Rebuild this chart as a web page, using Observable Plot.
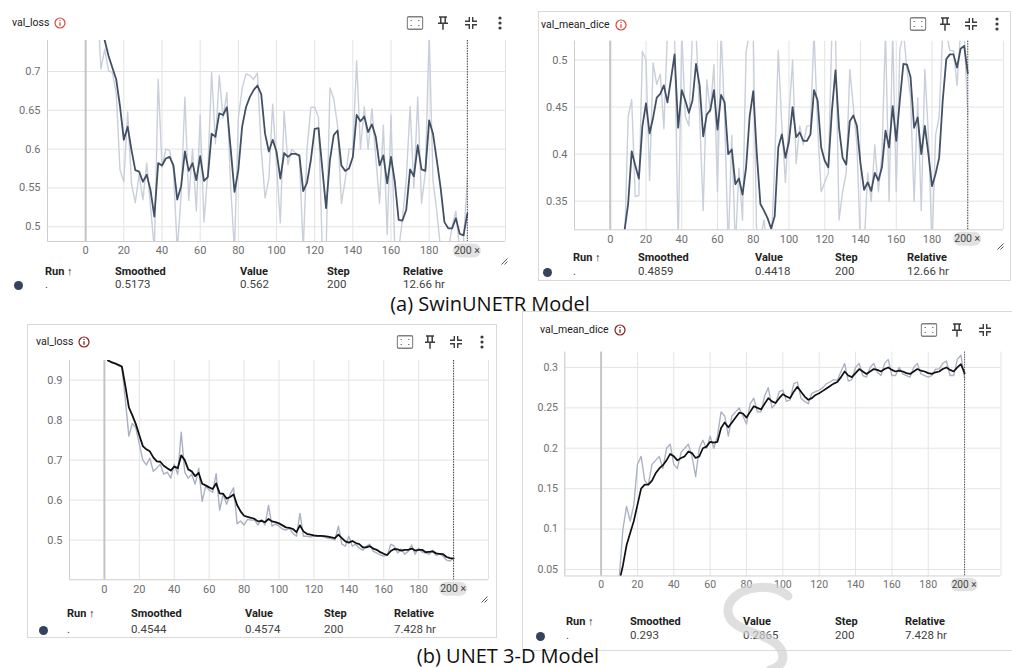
<!DOCTYPE html>
<html><head><meta charset="utf-8">
<script src="https://cdn.jsdelivr.net/npm/d3@7"></script>
<script src="https://cdn.jsdelivr.net/npm/@observablehq/plot@0.6"></script>
<style>
body{margin:0;width:1012px;height:668px;overflow:hidden;background:#fff;font-family:Roboto,"Noto Sans",sans-serif;position:relative}
.abs{position:absolute}
.box{position:absolute;border:1px solid #d9d9d9;box-sizing:border-box}
.t{position:absolute;transform:translateY(-50%);white-space:nowrap;line-height:1}
.title{font-size:10.5px;color:#212121;display:flex;align-items:center}
.title svg{margin-left:5px}
.th{font-size:11px;font-weight:700;color:#212121}
.td{font-size:11.5px;color:#424242}
.cap{position:absolute;font-family:"Open Sans",sans-serif;font-size:20px;color:#111;transform:translate(-50%,-50%);white-space:nowrap;line-height:1}
.ic{position:absolute;transform:translate(-50%,-50%);line-height:0}
</style></head><body>
<script>
// ---------- DATA ----------
const xTickLabels = [0, 20, 40, 60, 80, 100, 120, 140, 160, 180];
const xGrid = [-20, 0, 20, 40, 60, 80, 100, 120, 140, 160, 180, 200, 220];

// (a) SwinUNETR val_loss, steps 6..200 every 2
const swinLossSteps = d3.range(6, 201, 2);
const swinLossSmoothed = [0.80,0.76,0.74,0.72,0.705,0.69,0.655,0.612,0.629,0.599,
0.573,0.571,0.558,0.567,0.547,0.513,0.582,0.579,0.588,0.59,
0.579,0.535,0.552,0.597,0.572,0.582,0.56,0.591,0.559,0.564,
0.62,0.616,0.646,0.644,0.654,0.6,0.545,0.573,0.629,0.654,
0.667,0.676,0.682,0.671,0.62,0.597,0.612,0.597,0.562,0.595,
0.59,0.594,0.594,0.592,0.546,0.557,0.586,0.626,0.627,0.575,
0.524,0.586,0.618,0.624,0.579,0.572,0.575,0.59,0.644,0.636,
0.642,0.622,0.632,0.616,0.579,0.592,0.556,0.59,0.558,0.509,
0.508,0.522,0.574,0.565,0.605,0.574,0.572,0.637,0.62,0.586,
0.55,0.506,0.498,0.498,0.511,0.491,0.489,0.517];
const swinLossValue = [0.80,0.703,0.729,0.701,0.699,0.672,0.573,0.558,0.648,0.556,
0.531,0.567,0.535,0.582,0.526,0.47,0.69,0.577,0.60,0.598,
0.573,0.47,0.54,0.667,0.534,0.60,0.52,0.644,0.506,0.57,
0.699,0.607,0.695,0.64,0.673,0.55,0.47,0.64,0.678,0.697,
0.695,0.69,0.698,0.60,0.537,0.562,0.658,0.58,0.505,0.649,
0.58,0.60,0.595,0.59,0.47,0.60,0.654,0.654,0.641,0.47,
0.47,0.679,0.665,0.63,0.53,0.56,0.60,0.60,0.714,0.60,
0.655,0.60,0.652,0.59,0.53,0.631,0.49,0.644,0.47,0.47,
0.51,0.56,0.655,0.55,0.667,0.53,0.57,0.75,0.56,0.52,
0.47,0.47,0.47,0.50,0.52,0.47,0.48,0.562];

// (a) SwinUNETR val_mean_dice, steps 6..200 every 2
const swinDiceSteps = d3.range(6, 201, 2);
const swinDiceSmoothed = [0.30,0.319,0.347,0.403,0.388,0.374,0.43,0.454,0.422,0.439,
0.46,0.464,0.473,0.455,0.48,0.506,0.428,0.468,0.457,0.444,
0.457,0.496,0.473,0.419,0.442,0.447,0.468,0.426,0.463,0.455,
0.40,0.405,0.368,0.374,0.357,0.386,0.44,0.467,0.40,0.347,
0.34,0.332,0.321,0.334,0.407,0.421,0.396,0.414,0.45,0.418,
0.423,0.414,0.414,0.421,0.468,0.457,0.407,0.393,0.386,0.446,
0.489,0.428,0.396,0.389,0.435,0.441,0.43,0.39,0.362,0.37,
0.361,0.38,0.372,0.386,0.425,0.407,0.451,0.414,0.457,0.496,
0.495,0.482,0.428,0.439,0.40,0.43,0.40,0.366,0.379,0.396,
0.457,0.501,0.506,0.506,0.492,0.512,0.515,0.486];
const swinDiceValue = [0.28,0.30,0.44,0.458,0.355,0.356,0.509,0.50,0.372,0.497,
0.474,0.485,0.427,0.53,0.53,0.53,0.30,0.53,0.44,0.43,
0.53,0.53,0.44,0.34,0.479,0.445,0.495,0.36,0.53,0.44,
0.30,0.42,0.30,0.385,0.33,0.509,0.53,0.53,0.30,0.31,
0.33,0.30,0.30,0.39,0.51,0.43,0.37,0.44,0.50,0.39,
0.43,0.41,0.43,0.43,0.53,0.43,0.36,0.37,0.38,0.53,
0.53,0.33,0.36,0.38,0.49,0.45,0.41,0.30,0.30,0.38,
0.35,0.41,0.36,0.40,0.53,0.35,0.53,0.36,0.51,0.53,
0.49,0.46,0.35,0.46,0.34,0.49,0.42,0.30,0.42,0.44,
0.53,0.53,0.51,0.51,0.473,0.53,0.53,0.442];

// (b) UNET 3-D val_loss, steps 2..200 every 2
const unetLossSteps = d3.range(2, 201, 2);
const unetLossSmoothed = [0.949,0.945,0.942,0.938,0.934,0.885,0.832,0.812,0.79,0.762,
0.735,0.727,0.722,0.707,0.697,0.696,0.686,0.68,0.674,0.684,
0.68,0.712,0.70,0.677,0.672,0.66,0.668,0.641,0.637,0.632,
0.628,0.642,0.617,0.616,0.604,0.608,0.614,0.588,0.572,0.561,
0.558,0.556,0.553,0.547,0.548,0.545,0.553,0.547,0.545,0.542,
0.537,0.532,0.531,0.528,0.52,0.537,0.522,0.516,0.514,0.512,
0.511,0.511,0.51,0.509,0.507,0.505,0.514,0.505,0.497,0.494,
0.498,0.493,0.49,0.482,0.482,0.485,0.479,0.476,0.47,0.466,
0.463,0.473,0.478,0.477,0.474,0.476,0.476,0.479,0.474,0.476,
0.476,0.47,0.471,0.472,0.467,0.466,0.465,0.458,0.455,0.454];
const unetLossValue = [0.95,0.944,0.941,0.936,0.932,0.85,0.76,0.792,0.78,0.74,
0.70,0.688,0.705,0.672,0.68,0.69,0.665,0.67,0.655,0.69,
0.665,0.77,0.67,0.655,0.665,0.64,0.68,0.597,0.635,0.625,
0.62,0.666,0.575,0.615,0.59,0.615,0.631,0.541,0.548,0.538,
0.552,0.55,0.55,0.538,0.552,0.538,0.587,0.535,0.54,0.535,
0.528,0.525,0.53,0.517,0.51,0.567,0.51,0.51,0.508,0.51,
0.51,0.51,0.508,0.505,0.504,0.50,0.535,0.49,0.485,0.51,
0.485,0.49,0.48,0.475,0.485,0.49,0.472,0.468,0.463,0.46,
0.462,0.49,0.485,0.468,0.478,0.465,0.472,0.488,0.465,0.48,
0.47,0.468,0.465,0.475,0.462,0.465,0.46,0.45,0.448,0.457];

// (b) UNET 3-D val_mean_dice, steps 10..200 every 2
const unetDiceSteps = d3.range(10, 201, 2);
const unetDiceSmoothed = [0.035,0.055,0.08,0.095,0.11,0.13,0.15,0.155,0.155,0.16,
0.169,0.175,0.179,0.185,0.193,0.19,0.185,0.188,0.19,0.196,
0.194,0.188,0.19,0.2,0.202,0.208,0.207,0.208,0.225,0.232,
0.226,0.232,0.238,0.244,0.243,0.238,0.245,0.252,0.25,0.248,
0.255,0.262,0.258,0.256,0.262,0.267,0.264,0.262,0.27,0.276,
0.27,0.264,0.26,0.262,0.266,0.268,0.271,0.274,0.277,0.28,
0.282,0.288,0.295,0.29,0.288,0.293,0.298,0.295,0.292,0.295,
0.298,0.297,0.295,0.298,0.3,0.297,0.295,0.296,0.295,0.293,
0.292,0.295,0.298,0.296,0.295,0.293,0.292,0.294,0.295,0.298,
0.3,0.297,0.295,0.3,0.304,0.293];
const unetDiceValue = [0.04,0.10,0.128,0.11,0.13,0.18,0.19,0.16,0.155,0.18,
0.185,0.19,0.175,0.2,0.205,0.18,0.175,0.195,0.2,0.205,
0.19,0.165,0.2,0.21,0.2,0.215,0.2,0.215,0.245,0.24,
0.215,0.24,0.245,0.25,0.24,0.23,0.255,0.262,0.245,0.245,
0.265,0.275,0.25,0.255,0.27,0.272,0.258,0.26,0.28,0.282,
0.262,0.258,0.255,0.268,0.27,0.272,0.275,0.28,0.282,0.285,
0.284,0.295,0.305,0.283,0.285,0.3,0.305,0.29,0.288,0.3,
0.305,0.294,0.29,0.305,0.31,0.29,0.29,0.3,0.292,0.29,
0.288,0.3,0.305,0.292,0.29,0.288,0.29,0.298,0.298,0.305,
0.308,0.29,0.29,0.31,0.315,0.2865];

const footHeaders = ["Run \u2191", "Smoothed", "Value", "Step", "Relative"];
const footA = [".", "0.5173", "0.562", "200", "12.66 hr"];
const footB = [".", "0.4859", "0.4418", "200", "12.66 hr"];
const footC = [".", "0.4544", "0.4574", "200", "7.428 hr"];
const footD = [".", "0.293", "0.2865", "200", "7.428 hr"];

// ---------- HELPERS ----------
const body = document.body;
function txt(x, y, s, cls, extra) {
  const d = document.createElement("div");
  d.className = "t " + cls;
  d.style.left = x + "px"; d.style.top = y + "px";
  if (extra) Object.assign(d.style, extra);
  d.textContent = s;
  body.appendChild(d);
  return d;
}
function icon(x, y, svg) {
  const d = document.createElement("div");
  d.className = "ic"; d.style.left = x + "px"; d.style.top = y + "px";
  d.innerHTML = svg; body.appendChild(d);
}
function box(l, t, r, b) {
  const d = document.createElement("div");
  d.className = "box";
  Object.assign(d.style, {left: l + "px", top: t + "px", width: (r - l) + "px", height: (b - t) + "px"});
  body.appendChild(d);
}
const IC = {
  fit: '<svg width="17" height="14"><rect x="0.75" y="0.75" width="15.5" height="12.5" rx="1.5" fill="none" stroke="#808080" stroke-width="1.3"/><path d="M4 4.5h1.5M11.5 4.5h1.5M4 9.5h1.5M11.5 9.5h1.5" stroke="#808080" stroke-width="1.2"/></svg>',
  pin: '<svg width="12" height="15"><path d="M2 1.5h8M3.8 1.5v6M8.2 1.5v6M1 7.8h10M6 7.8v6.5" stroke="#3c3c3c" stroke-width="1.5" fill="none"/></svg>',
  col: '<svg width="13" height="13"><path d="M4.8 0.5v4.3h-4.3M8.2 0.5v4.3h4.3M4.8 12.5v-4.3h-4.3M8.2 12.5v-4.3h4.3" stroke="#3c3c3c" fill="none" stroke-width="1.4"/></svg>',
  dots: '<svg width="4" height="14" fill="#3c3c3c"><circle cx="2" cy="2" r="1.6"/><circle cx="2" cy="7" r="1.6"/><circle cx="2" cy="12" r="1.6"/></svg>',
  info: c => `<svg width="12" height="12"><circle cx="6" cy="6" r="5" fill="none" stroke="${c}" stroke-width="1.2"/><path d="M6 5.2v3.6M6 3v1.1" stroke="${c}" stroke-width="1.3"/></svg>`,
  resize: '<svg width="8" height="8"><path d="M7.5 1.5L1.5 7.5M7.5 4.5L4.5 7.5" stroke="#555" stroke-width="1"/></svg>'
};
function title(x, y, s, infoColor) {
  const d = txt(x, y, s, "title");
  d.insertAdjacentHTML("beforeend", IC.info(infoColor));
}

function chart(p) {
  const data = p.steps.map((s, i) => ({step: s, raw: p.raw[i], smooth: p.smooth[i]}));
  const y0 = p.yDomain[0];
  const fmt = d => String(d);
  const c = Plot.plot({
    width: p.w, height: p.h,
    marginLeft: p.ml, marginRight: p.mr, marginTop: p.mt, marginBottom: p.mb,
    style: {fontFamily: "Roboto, sans-serif", fontSize: "11px", color: "#6e6e6e", background: "transparent", overflow: "visible"},
    x: {domain: [-20, 220]},
    y: {domain: p.yDomain},
    marks: [
      Plot.gridX(xGrid, {stroke: "#e3e3e3", strokeOpacity: 1}),
      Plot.gridY(p.yTicks, {stroke: "#e3e3e3", strokeOpacity: 1}),
      Plot.ruleX([-20], {stroke: "#cdcdcd"}),
      Plot.ruleY([y0], {stroke: "#cdcdcd"}),
      Plot.ruleX([0], {stroke: "#c4c4c4", strokeWidth: 2}),
      Plot.line(data, {x: "step", y: "raw", stroke: p.rawColor, strokeWidth: 1.4, clip: true}),
      Plot.line(data, {x: "step", y: "smooth", stroke: p.smoothColor, strokeWidth: 1.8, clip: true}),
      Plot.ruleX([200], {stroke: "#3a3a3a", strokeDasharray: "1.3,1.3", strokeWidth: 1}),
      Plot.axisX(xTickLabels, {tickSize: 0, tickPadding: 5, label: null, tickFormat: fmt}),
      Plot.axisY(p.yTicks, {tickSize: 0, tickPadding: 7, label: null, tickFormat: fmt})
    ]
  });
  const wrap = document.createElement("div");
  wrap.className = "abs";
  wrap.style.left = p.left + "px"; wrap.style.top = p.top + "px";
  wrap.appendChild(c);
  body.appendChild(wrap);
  // "200 ×" pill on the x axis, placed with the chart's own x scale
  const px = c.scale("x").apply(200);
  const g = d3.select(c).append("g").attr("transform", `translate(${px},${p.h - p.mb + 9.5})`);
  g.append("rect").attr("x", -14).attr("y", -7).attr("width", 28).attr("height", 14).attr("rx", 7).attr("fill", "#e2e2e2");
  g.append("text").attr("x", 0).attr("dy", "0.35em").attr("text-anchor", "middle").attr("font-size", 10.5)
    .attr("fill", "#444").text("200 \u00d7");
  return c;
}
function footer(cols, yH, yV, dotX, vals) {
  footHeaders.forEach((h, i) => txt(cols[i], yH, h, "th"));
  vals.forEach((v, i) => txt(cols[i], yV, v, "td"));
  const d = document.createElement("div");
  Object.assign(d.style, {position: "absolute", left: (dotX - 4.5) + "px", top: (yV - 4) + "px", width: "9px", height: "9px", borderRadius: "50%", background: "#34425c"});
  body.appendChild(d);
}
function caption(x, y, s) {
  const d = document.createElement("div");
  d.className = "cap"; d.style.left = x + "px"; d.style.top = y + "px";
  d.textContent = s; body.appendChild(d);
}

// ---------- PANEL A : SwinUNETR val_loss ----------
title(12, 23, "val_loss", "#e0463c");
icon(415, 23, IC.fit); icon(443, 23, IC.pin); icon(471, 23, IC.col); icon(500, 23, IC.dots);
chart({steps: swinLossSteps, raw: swinLossValue, smooth: swinLossSmoothed,
  yDomain: [0.481, 0.74], yTicks: [0.5, 0.55, 0.6, 0.65, 0.7],
  left: 0, top: 30, w: 512, h: 235, ml: 47, mr: 7, mt: 10, mb: 24,
  rawColor: "#c9cfdb", smoothColor: "#425066"});
icon(504, 261, IC.resize);
footer([45, 115, 240, 327, 403], 270.5, 284.5, 18, footA);

// ---------- PANEL B : SwinUNETR val_mean_dice ----------
box(538, 11, 1011, 281);
title(541, 25, "val_mean_dice", "#e0463c");
icon(918, 24, IC.fit); icon(945, 24, IC.pin); icon(971, 24, IC.col); icon(997, 24, IC.dots);
chart({steps: swinDiceSteps, raw: swinDiceValue, smooth: swinDiceSmoothed,
  yDomain: [0.3196, 0.52], yTicks: [0.35, 0.4, 0.45, 0.5],
  left: 528, top: 32, w: 484, h: 218, ml: 46, mr: 9, mt: 8.7, mb: 20.7,
  rawColor: "#c9cfdb", smoothColor: "#425066"});
icon(1000, 246, IC.resize);
footer([573, 638, 755, 835, 907], 256.5, 272, 547.5, footB);

caption(490, 304, "(a) SwinUNETR Model");

// ---------- PANEL C : UNET 3-D val_loss ----------
box(27, 324, 497, 638);
title(36, 342, "val_loss", "#8b1c1c");
icon(405, 342, IC.fit); icon(430, 342, IC.pin); icon(456, 342, IC.col); icon(482, 342, IC.dots);
chart({steps: unetLossSteps, raw: unetLossValue, smooth: unetLossSmoothed,
  yDomain: [0.401, 0.949], yTicks: [0.5, 0.6, 0.7, 0.8, 0.9],
  left: 27, top: 350, w: 469, h: 250, ml: 42, mr: 8, mt: 10, mb: 20.7,
  rawColor: "#a9b1c3", smoothColor: "#111111"});
icon(484, 599, IC.resize);
footer([67, 131, 245, 324, 394], 612.5, 630, 43, footC);

// ---------- PANEL D : UNET 3-D val_mean_dice ----------
box(522, 311, 1030, 651);
title(540, 330, "val_mean_dice", "#8b1c1c");
icon(929, 330, IC.fit); icon(957, 330, IC.pin); icon(985, 330, IC.col);
chart({steps: unetDiceSteps, raw: unetDiceValue, smooth: unetDiceSmoothed,
  yDomain: [0.042, 0.319], yTicks: [0.05, 0.1, 0.15, 0.2, 0.25, 0.3],
  left: 522, top: 342, w: 510, h: 262, ml: 44, mr: 12, mt: 10, mb: 19,
  rawColor: "#a9b1c3", smoothColor: "#111111"});
footer([566, 630, 743, 835, 905], 620.5, 636, 540, footD);

// faint watermark swoosh in the reference
body.insertAdjacentHTML("beforeend", '<svg class="abs" style="left:0;top:0;pointer-events:none" width="1012" height="668"><path d="M788 596 C 768 578, 726 590, 728 612 C 730 634, 776 632, 782 652 C 786 664, 776 668, 770 670" fill="none" stroke="#d2d2d2" stroke-width="9" stroke-linecap="round" opacity="0.7"/></svg>');

caption(508, 655.5, "(b) UNET 3-D Model");
</script></body></html>
